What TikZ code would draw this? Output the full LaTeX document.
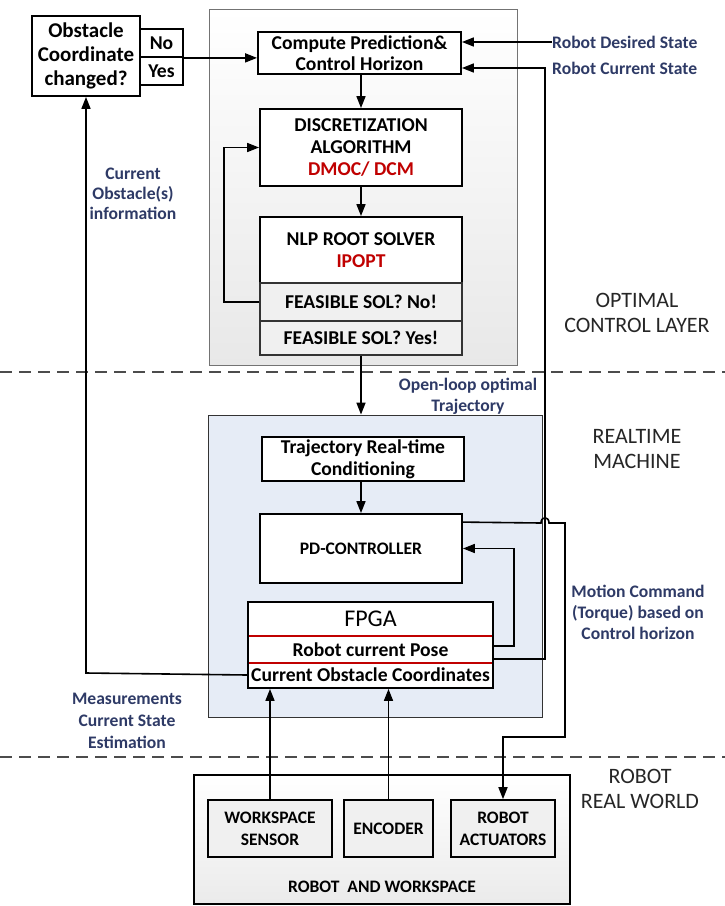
\documentclass[tikz,border=0pt]{standalone}
\usepackage{fontspec}
\setmainfont{Carlito}
\usetikzlibrary{arrows.meta,calc}
\definecolor{navy}{HTML}{2E3A66}
\definecolor{darkred}{HTML}{C00000}
\definecolor{rtblue}{HTML}{E6ECF6}
\begin{document}
\begin{tikzpicture}[x=1pt,y=-1pt,
  box/.style={draw=black, line width=1.8pt, fill=white, inner sep=0pt, align=center,
    font=\bfseries\fontsize{19.6}{22}\selectfont},
  graybox/.style={box, fill=black!6},
  smallbox/.style={graybox, line width=1.6pt, minimum height=57pt, font=\bfseries\fontsize{17.5}{22}\selectfont},
  conn/.style={draw=black, line width=1.6pt},
  arr/.style={conn, -{Triangle[length=12pt,width=9pt]}},
  navylabel/.style={text=navy, align=center, inner sep=0pt, font=\bfseries\fontsize{17.6}{21}\selectfont},
  layerlabel/.style={text=black!85, align=center, inner sep=0pt, font=\fontsize{22}{25.5}\selectfont},
  divider/.style={draw=black!70, line width=2.4pt, dash pattern=on 12pt off 7pt}
]
\useasboundingbox (0,0) rectangle (725,906);

% layer backgrounds
\node[draw=black!55, line width=0.8pt, top color=white, bottom color=black!9, minimum width=308pt, minimum height=356pt, inner sep=0pt] (opt) at (363,187) {};
\node[draw=black!80, line width=0.9pt, fill=rtblue, minimum width=334pt, minimum height=302pt, inner sep=0pt] (rt) at (375,566) {};
\node[draw=black, line width=1.8pt, top color=white, bottom color=black!8, minimum width=376pt, minimum height=129pt, inner sep=0pt] (world) at (382,839.5) {};

% dividers
\coordinate (d1l) at (0,372); \coordinate (d1r) at (725,372);
\coordinate (d2l) at (0,757); \coordinate (d2r) at (725,757);
\draw[divider] (d1l) -- (d1r);
\draw[divider] (d2l) -- (d2r);

% obstacle decision
\node[box, minimum width=108pt, minimum height=80pt, font=\bfseries\fontsize{21}{24}\selectfont] (obst) at (86,56) {Obstacle\\Coordinate\\changed?};
\node[box, minimum width=43pt, minimum height=28pt] (no) at (161.5,43) {No};
\node[box, minimum width=43pt, minimum height=28pt] (yes) at (161.5,71) {Yes};

% optimal control layer
\node[box, minimum width=203pt, minimum height=42pt, font=\bfseries\fontsize{19.6}{21}\selectfont] (compute) at (359.5,53) {Compute Prediction\&\\Control Horizon};
\node[box, minimum width=202pt, minimum height=77pt] (disc) at (361,147.5) {DISCRETIZATION\\ALGORITHM\\\textcolor{darkred}{DMOC/ DCM}};
\node[box, minimum width=202pt, minimum height=66pt] (nlp) at (361,250) {NLP ROOT SOLVER\\\textcolor{darkred}{IPOPT}};
\node[graybox, draw=black!80, minimum width=202pt, minimum height=38pt] (nosol) at (361,302) {FEASIBLE SOL? No!};
\node[graybox, draw=black!80, minimum width=202pt, minimum height=34pt] (yessol) at (361,338) {FEASIBLE SOL? Yes!};

% realtime machine
\node[box, minimum width=202pt, minimum height=44pt] (traj) at (363,459) {Trajectory Real-time\\Conditioning};
\node[box, minimum width=202pt, minimum height=69pt, font=\bfseries\fontsize{17.6}{20}\selectfont] (pd) at (361,548.5) {PD-CONTROLLER};
\node[box, minimum width=245pt, minimum height=86pt] (fpga) at (370.5,645) {};
\node[inner sep=0pt, font=\fontsize{24}{26}\selectfont] (fpgat) at (370.5,619) {FPGA};
\node[inner sep=0pt, font=\bfseries\fontsize{19.6}{22}\selectfont] (pose) at (370.5,650) {Robot current Pose};
\node[inner sep=0pt, font=\bfseries\fontsize{19.6}{22}\selectfont] (obsc) at (370.5,675) {Current Obstacle Coordinates};
\coordinate (r1l) at (249,636); \coordinate (r1r) at (492,636);
\coordinate (r2l) at (249,663); \coordinate (r2r) at (492,663);
\draw[darkred, line width=1.6pt] (r1l) -- (r1r);
\draw[darkred, line width=1.6pt] (r2l) -- (r2r);

% robot real world
\node[smallbox, minimum width=124pt] (ws) at (270,828.5) {WORKSPACE\\SENSOR};
\node[smallbox, minimum width=89pt] (enc) at (388.5,828.5) {ENCODER};
\node[smallbox, minimum width=104pt] (act) at (503,828.5) {ROBOT\\ACTUATORS};
\node[inner sep=0pt, font=\bfseries\fontsize{17.5}{21}\selectfont] (worldt) at (382,887) {ROBOT\ \ AND WORKSPACE};

% labels
\node[navylabel, anchor=west] (desired) at (552,42) {Robot Desired State};
\node[navylabel, anchor=west] (current) at (552,68) {Robot Current State};
\node[navylabel, font=\bfseries\fontsize{17.6}{20}\selectfont] (obsinfo) at (133,194) {Current\\Obstacle(s)\\information};
\node[navylabel] (openloop) at (468,396) {Open-loop optimal\\Trajectory};
\node[navylabel] (motion) at (638,612) {Motion Command\\(Torque) based on\\Control horizon};
\node[navylabel, font=\bfseries\fontsize{17.6}{22}\selectfont] (meas) at (127,721) {Measurements\\Current State\\Estimation};
\node[layerlabel] (l1) at (637,313) {OPTIMAL\\CONTROL LAYER};
\node[layerlabel] (l2) at (637,449) {REALTIME\\MACHINE};
\node[layerlabel] (l3) at (640,789) {ROBOT\\REAL WORLD};

% connectors
\draw[arr] (no.south east) -- (no.south east -| compute.west);
\draw[arr] (desired.west) -- (desired.west -| compute.east);
\coordinate (cs) at (545,68);
\draw[arr] ($(fpga.east)+(0,14)$) -| (cs) -- (cs -| compute.east);
\draw[arr] (compute.south -| disc.north) -- (disc.north);
\draw[arr] (disc.south) -- (nlp.north);
\coordinate (loopx) at (224,302);
\draw[arr] (nosol.west) -- (loopx) |- (disc.west);
\draw[arr] (yessol.south) -- (yessol.south |- rt.north);
\draw[arr] (traj.south -| pd.north) -- (pd.north);
\coordinate (posex) at (514,646);
\draw[arr] ($(fpga.east)+(0,1)$) -- (posex) |- (pd.east);
\coordinate (pdo) at ($(pd.north east)+(0,9)$);
\coordinate (h1) at (541,523); \coordinate (h2) at (549,523);
\coordinate (m1) at (565,523); \coordinate (m2) at (565,737); \coordinate (m3) at (503,737);
\draw[arr] (pdo) -- (h1) .. controls (541,516) and (549,516) .. (h2) -- (m1) -- (m2) -- (m3) -- (act.north);
\coordinate (ol) at (86,673);
\draw[arr] (obsc.west -| fpga.west) -- (ol) -- (obst.south);
\draw[arr] (ws.north) -- (ws.north |- fpga.south);
\draw[arr] (enc.north) -- (enc.north |- fpga.south);
\end{tikzpicture}
\end{document}
